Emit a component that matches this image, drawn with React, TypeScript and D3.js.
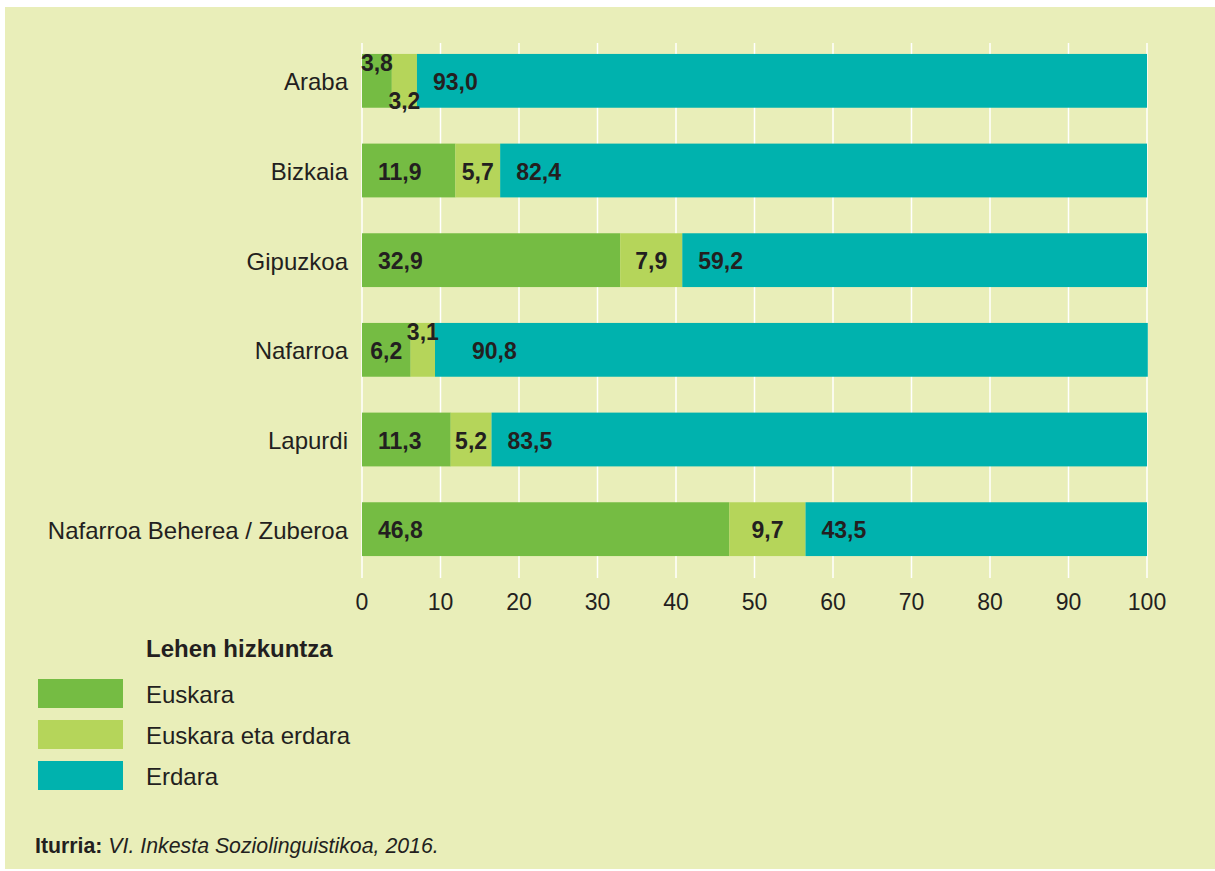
import React from "react";
import * as d3 from "d3";

const categories = ["Araba", "Bizkaia", "Gipuzkoa", "Nafarroa", "Lapurdi", "Nafarroa Beherea / Zuberoa"];
const seriesNames = ["Euskara", "Euskara eta erdara", "Erdara"];
const euskara = [3.8, 11.9, 32.9, 6.2, 11.3, 46.8];
const biak = [3.2, 5.7, 7.9, 3.1, 5.2, 9.7];
const erdara = [93.0, 82.4, 59.2, 90.8, 83.5, 43.5];
const xTicks = [0, 10, 20, 30, 40, 50, 60, 70, 80, 90, 100];
const legendTitle = "Lehen hizkuntza";
const sourceLabel = "Iturria:";
const sourceText = "VI. Inkesta Soziolinguistikoa, 2016.";

const colors = ["#75bc43", "#b5d55a", "#00b2ae"];
const BG = "#e9eeb9";
const TXT = "#231f20";
const FONT = "'Liberation Sans', Arial, Helvetica, sans-serif";

// label placement style: "in" (inside, left-ish), "center", "top", "bottom"
const labelPlace: string[][] = [
  ["top", "bottom", "in"],
  ["in", "center", "in"],
  ["in", "center", "in"],
  ["center", "top", "in2"],
  ["in", "center", "in"],
  ["in", "center", "in"],
];

const fmt = (v: number) => v.toFixed(1).replace(".", ",");

export default function App() {
  const W = 1215, H = 871;
  const x = d3.scaleLinear().domain([0, 100]).range([362, 1147]);
  const y = d3.scaleBand<string>().domain(categories).range([36, 574]).paddingInner(0.4).paddingOuter(0.2);
  const series = [euskara, biak, erdara];
  const bw = y.bandwidth();

  const rows = categories.map((c, i) => {
    let acc = 0;
    return series.map((s, k) => {
      const v = s[i];
      const seg = { k, v, x0: acc, x1: acc + v };
      acc += v;
      return seg;
    });
  });

  return (
    <svg width={W} height={H} style={{ position: "absolute", left: 0, top: 0 }} fontFamily={FONT}>
      <rect x={0} y={0} width={W} height={H} fill="#ffffff" />
      <rect x={5} y={7} width={W - 5} height={H - 9} fill={BG} />
      {xTicks.map((t) => (
        <line key={t} x1={x(t)} x2={x(t)} y1={43} y2={578} stroke="#ffffff" strokeWidth={1.5} />
      ))}
      {categories.map((c, i) => {
        const top = y(c)!;
        return (
          <g key={c}>
            {rows[i].map((s) => (
              <rect key={s.k} x={x(s.x0)} y={top} width={x(s.x1) - x(s.x0)} height={bw} fill={colors[s.k]} />
            ))}
            <text x={348} y={top + bw / 2 + 1} textAnchor="end" dominantBaseline="central" fontSize={24} fill={TXT}>
              {c}
            </text>
            {rows[i].map((s) => {
              const p = labelPlace[i][s.k];
              const cx = (x(s.x0) + x(s.x1)) / 2;
              let lx = cx, anchor = "middle", ly = top + bw / 2 + 1;
              if (p === "in") { lx = x(s.x0) + 16; anchor = "start"; }
              if (p === "in2") { lx = x(s.x0) + 37; anchor = "start"; }
              if (p === "top") { ly = top + 9; }
              if (p === "bottom") { ly = top + bw - 7; }
              return (
                <text key={"l" + s.k} x={lx} y={ly} textAnchor={anchor} dominantBaseline="central" fontSize={23} fontWeight="bold" fill={TXT}>
                  {fmt(s.v)}
                </text>
              );
            })}
          </g>
        );
      })}
      {xTicks.map((t) => (
        <text key={"t" + t} x={x(t)} y={610} textAnchor="middle" fontSize={23} fill={TXT}>
          {t}
        </text>
      ))}
      <text x={146} y={657} fontSize={24} fontWeight="bold" fill={TXT}>{legendTitle}</text>
      {seriesNames.map((n, k) => (
        <g key={n}>
          <rect x={38} y={679 + k * 41} width={85} height={29} fill={colors[k]} />
          <text x={146} y={694 + k * 41} dominantBaseline="central" fontSize={24} fill={TXT}>{n}</text>
        </g>
      ))}
      <text x={35} y={853} fontSize={21.3} fill={TXT}>
        <tspan fontWeight="bold">{sourceLabel}</tspan>
        <tspan fontStyle="italic">{" " + sourceText}</tspan>
      </text>
    </svg>
  );
}
